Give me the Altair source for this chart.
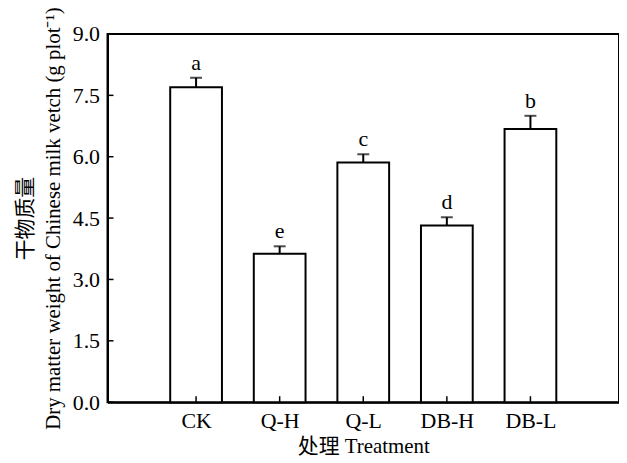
import altair as alt
import pandas as pd

categories = ["CK", "Q-H", "Q-L", "DB-H", "DB-L"]
positions = [1, 2, 3, 4, 5]
means = [7.70, 3.63, 5.86, 4.32, 6.68]
errors = [0.23, 0.18, 0.20, 0.20, 0.32]
letters = ["a", "e", "c", "d", "b"]
y_tick_values = [0.0, 1.5, 3.0, 4.5, 6.0, 7.5, 9.0]

df = pd.DataFrame({
    "cat": categories,
    "pos": positions,
    "mean": means,
    "err": errors,
    "letter": letters,
})
df["top"] = df["mean"] + df["err"]
yt = pd.DataFrame({"v": y_tick_values})

FONT = "Liberation Serif, Times New Roman, Noto Sans CJK SC"

label_expr = "{1:'CK',2:'Q-H',3:'Q-L',4:'DB-H',5:'DB-L'}[datum.value]"

x_enc = alt.X(
    "pos:Q",
    scale=alt.Scale(domain=[0, 6], nice=False, zero=False),
    axis=alt.Axis(
        values=positions, labelExpr=label_expr, ticks=False, grid=False,
        title="处理 Treatment", labelPadding=8, titlePadding=5,
    ),
)
y_scale = alt.Scale(domain=[0, 9], nice=False)
y_axis = alt.Axis(
    values=y_tick_values, format=".1f", ticks=False, grid=False,
    labelPadding=8, titlePadding=9,
    title=["干物质量", "Dry matter weight of Chinese milk vetch (g plot⁻¹)"],
    titleLineHeight=28,
)

base = alt.Chart(df)

bars = base.mark_bar(
    size=52, fill="white", stroke="black", strokeWidth=2, orient="vertical"
).encode(x=x_enc, y=alt.Y("mean:Q", scale=y_scale, axis=y_axis))

err_line = base.mark_rule(color="black", strokeWidth=2).encode(
    x="pos:Q", y="mean:Q", y2="top:Q"
)
caps = base.mark_tick(
    color="black", size=12, thickness=2, orient="horizontal"
).encode(x="pos:Q", y="top:Q")

texts = base.mark_text(
    baseline="bottom", dy=-3, fontSize=22, font=FONT, color="black"
).encode(x="pos:Q", y="top:Q", text="letter:N")

xticks = base.mark_rule(color="black", strokeWidth=1.5).encode(
    x="pos:Q", y=alt.value(370), y2=alt.value(364)
)
yticks = alt.Chart(yt).mark_rule(color="black", strokeWidth=1.5).encode(
    y="v:Q", x=alt.value(0), x2=alt.value(6)
)

chart = alt.layer(bars, err_line, caps, texts, xticks, yticks).properties(
    width=514, height=370,
    autosize=alt.AutoSizeParams(type="none"),
    padding={"left": 100, "top": 25, "right": 0, "bottom": 58},
).configure_view(
    stroke="black", strokeWidth=2
).configure_axis(
    labelFont=FONT, titleFont=FONT, labelFontSize=22, titleFontSize=21,
    labelColor="black", titleColor="black", titleFontWeight="normal",
    domainColor="black", domainWidth=2,
)

chart.save("out.html", embed_options={"renderer": "svg", "actions": False})
